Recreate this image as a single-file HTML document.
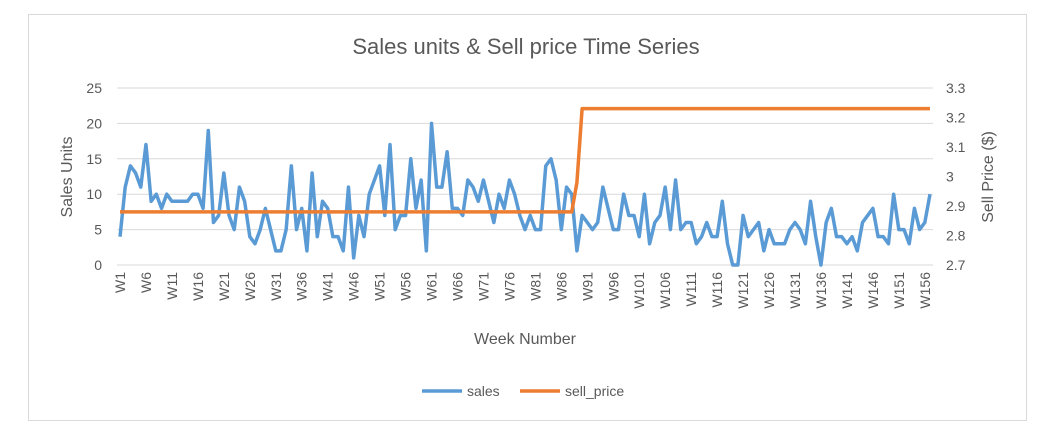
<!DOCTYPE html>
<html><head><meta charset="utf-8"><style>
body{margin:0;background:#fff;font-family:"Liberation Sans",sans-serif}
</style></head><body>
<svg width="1041" height="430" xmlns="http://www.w3.org/2000/svg" font-family="Liberation Sans, sans-serif">
<rect x="28.5" y="14.5" width="998" height="406" fill="#fff" stroke="#d9d9d9"/>
<text x="526" y="54" font-size="22" fill="#595959" text-anchor="middle">Sales units &amp; Sell price Time Series</text>
<g id="grid"></g><g id="ylab"></g><g id="yrlab"></g><g id="xlab"></g>
<path id="sales" fill="none" stroke="#5b9bd5" stroke-width="3.5" stroke-linejoin="round"/>
<path id="price" fill="none" stroke="#ed7d31" stroke-width="3.5" stroke-linejoin="round"/>
<text transform="translate(72,177) rotate(-90)" font-size="16" fill="#595959" text-anchor="middle">Sales Units</text>
<text transform="translate(993,177) rotate(-90)" font-size="16" fill="#595959" text-anchor="middle">Sell Price ($)</text>
<text x="525" y="344" font-size="16" fill="#595959" text-anchor="middle">Week Number</text>
<g>
<line x1="422" y1="391" x2="462" y2="391" stroke="#5b9bd5" stroke-width="3.5"/>
<text x="467" y="396" font-size="14" fill="#595959">sales</text>
<line x1="520" y1="391" x2="560" y2="391" stroke="#ed7d31" stroke-width="3.5"/>
<text x="565" y="396" font-size="14" fill="#595959">sell_price</text>
</g>
</svg>
<script>
const sales=[4,11,14,13,11,17,9,10,8,10,9,9,9,9,10,10,8,19,6,7,13,7,5,11,9,4,3,5,8,5,2,2,5,14,5,8,2,13,4,9,8,4,4,2,11,1,7,4,10,12,14,7,17,5,7,7,15,8,12,2,20,11,11,16,8,8,7,12,11,9,12,9,6,10,8,12,10,7,5,7,5,5,14,15,12,5,11,10,2,7,6,5,6,11,8,5,5,10,7,7,4,10,3,6,7,11,5,12,5,6,6,3,4,6,4,4,9,3,0,0,7,4,5,6,2,5,3,3,3,5,6,5,3,9,4,0,6,8,4,4,3,4,2,6,7,8,4,4,3,10,5,5,3,8,5,6,10];
const priceLevels=[2.88,2.98,3.23];
const priceStart=[1,89,90];
const yTicks=[0,5,10,15,20,25];
const y2Ticks=[2.7,2.8,2.9,3,3.1,3.2,3.3];
const NS="http://www.w3.org/2000/svg";
const x0=120,x1=930,yb=265,yt=88;
const X=i=>x0+(x1-x0)*i/(sales.length-1);
const Y=v=>yb-(yb-yt)*v/25;
const Y2=v=>yb-(yb-yt)*(v-2.7)/0.6;
function mk(t,a,p){const e=document.createElementNS(NS,t);for(const k in a)e.setAttribute(k,a[k]);document.getElementById(p).appendChild(e);return e;}
yTicks.forEach(v=>{
 const l=mk('line',{x1:x0-3,x2:x1+3,y1:Y(v),y2:Y(v),stroke:'#d9d9d9'},'grid');
 
 
 const t=mk('text',{x:102,y:Y(v)+5,'font-size':14,fill:'#595959','text-anchor':'end'},'ylab');t.textContent=v;
 
 
});
y2Ticks.forEach(v=>{
 const t=mk('text',{x:946,y:Y2(v)+5,'font-size':14,fill:'#595959'},'yrlab');t.textContent=String(v);
 
 
});
for(let i=0;i<sales.length;i+=5){
 const x=X(i);
 const t=mk('text',{transform:`translate(${x+5},${272}) rotate(-90)`,'font-size':14,fill:'#595959','text-anchor':'end'},'xlab');t.textContent='W'+(i+1);
 
 
}
document.getElementById('sales').setAttribute('d',sales.map((v,i)=>(i?'L':'M')+X(i)+' '+Y(v)).join(''));
function priceAt(w){let p=priceLevels[0];priceStart.forEach((s,k)=>{if(w>=s)p=priceLevels[k];});return p;}
document.getElementById('price').setAttribute('d',sales.map((v,i)=>(i?'L':'M')+X(i)+' '+Y2(priceAt(i+1))).join(''));
</script>
</body></html>
